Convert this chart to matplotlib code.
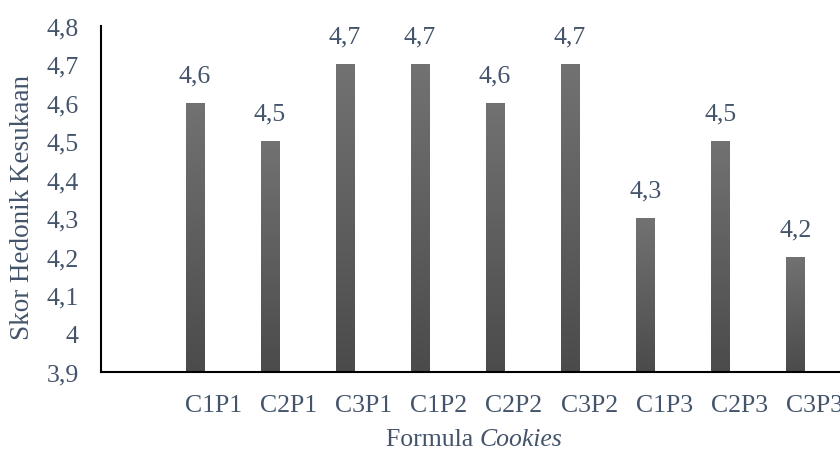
import numpy as np
import matplotlib
matplotlib.use("Agg")
import matplotlib.pyplot as plt

# first category slot is left empty on the axis
formula = ["", "C1P1", "C2P1", "C3P1", "C1P2", "C2P2", "C3P2", "C1P3", "C2P3", "C3P3"]
skor = [np.nan, 4.6, 4.5, 4.7, 4.7, 4.6, 4.7, 4.3, 4.5, 4.2]
yticks = [3.9, 4.0, 4.1, 4.2, 4.3, 4.4, 4.5, 4.6, 4.7, 4.8]

text_color = "#44546A"
plt.rcParams["font.family"] = ["Liberation Serif", "DejaVu Serif"]

def koma(v):
    s = f"{v:.1f}".replace(".", ",")
    return s[:-2] if s.endswith(",0") else s

fig = plt.figure(figsize=(8.4, 4.52), dpi=100)
ax = fig.add_axes([0.1202, 0.1748, 0.894, 0.7655])

x = np.arange(len(formula))
xb = x - 0.253  # bars sit left of the category centre
bars = ax.bar(xb, skor, width=0.24, color="none", zorder=2)

# vertical gradient fill for each bar
grad = np.linspace(0, 1, 256).reshape(-1, 1)
cmap = matplotlib.colors.LinearSegmentedColormap.from_list("g", ["#4b4b4b", "#727272"])
for b, v in zip(bars, skor):
    if np.isnan(v):
        continue
    x0, w = b.get_x(), b.get_width()
    im = ax.imshow(grad, cmap=cmap, aspect="auto", origin="lower",
                   extent=[x0, x0 + w, 3.9, v], zorder=2)
    im.set_clip_path(b)

for xi, v in zip(xb, skor):
    if np.isnan(v):
        continue
    ax.annotate(koma(v), (xi, v), xytext=(0, 12), textcoords="offset points",
                ha="center", va="bottom", fontsize=18.5, color=text_color)

ax.set_xlim(-0.5, 9.5)
ax.set_ylim(3.9, 4.8)
ax.set_yticks(yticks)
ax.set_yticklabels([koma(t) for t in yticks])
ax.set_xticks(x)
ax.set_xticklabels(formula)
ax.tick_params(axis="both", length=0, labelsize=18.5, colors=text_color)
ax.tick_params(axis="y", pad=16)
ax.tick_params(axis="x", pad=16)

for s in ["top", "right"]:
    ax.spines[s].set_visible(False)
for s in ["left", "bottom"]:
    ax.spines[s].set_color("black")
    ax.spines[s].set_linewidth(1.5)

fig.text(0.027, 0.542, "Skor Hedonik Kesukaan", rotation=90, fontsize=19.5,
         color=text_color, ha="center", va="center")
fig.text(0.571, 0.014, "Formula ", fontsize=18.5, color=text_color,
         ha="right", va="baseline")
fig.text(0.571, 0.014, "Cookies", fontsize=18.5, color=text_color,
         ha="left", va="baseline", style="italic")

fig.savefig("out.png", dpi=100)
